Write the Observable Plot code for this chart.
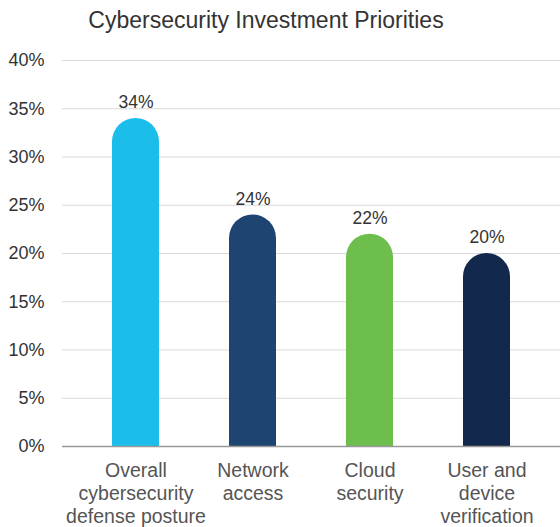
<!DOCTYPE html>
<html>
<head>
<meta charset="utf-8">
<script src="https://cdn.jsdelivr.net/npm/d3@7"></script>
<script src="https://cdn.jsdelivr.net/npm/@observablehq/plot@0.6"></script>
<style>
  html, body { margin: 0; padding: 0; background: #fff; }
  #title { font-family: "Liberation Sans", Arial, sans-serif; font-size: 23px; color: #333; height: 40px; line-height: 40px; width: 560px; text-align: center; padding-right: 28px; box-sizing: border-box; }
</style>
</head>
<body>
<div id="title">Cybersecurity Investment Priorities</div>
<div id="chart"></div>
<script>
const categories = ["Overall\ncybersecurity\ndefense posture", "Network\naccess", "Cloud\nsecurity", "User and\ndevice\nverification"];
const values = [34, 24, 22, 20];
const colors = ["#1BBDEB", "#1E4471", "#6DBE4C", "#13284D"];
const yTicks = [0, 5, 10, 15, 20, 25, 30, 35, 40];

const data = categories.map((c, i) => ({category: c, value: values[i], color: colors[i]}));
const font = "Liberation Sans, Arial, sans-serif";

const chart = Plot.plot({
  width: 560,
  height: 487,
  marginTop: 20,
  marginBottom: 81,
  marginLeft: 62,
  marginRight: 0,
  style: {fontFamily: font, background: "#fff"},
  x: {domain: categories, paddingInner: 0.6, paddingOuter: 0.42, axis: null},
  y: {domain: [0, 40], ticks: yTicks, axis: null},
  marks: [
    Plot.ruleY(yTicks.filter(d => d > 0), {stroke: "#d9d9d9", strokeWidth: 1}),
    Plot.barY(data, {x: "category", y: "value", fill: "color", rx: 23.5}),
    Plot.barY(data, {x: "category", y1: 0, y2: d => d.value / 2, fill: "color"}),
    Plot.ruleY([0], {stroke: "#999", strokeWidth: 1.5}),
    Plot.text(yTicks, {x: null, y: d => d, text: d => d + "%", frameAnchor: "left", textAnchor: "end", dx: -18, fontSize: 18, fill: "#333"}),
    Plot.text(data, {x: "category", y: "value", text: d => d.value + "%", dy: -16, fontSize: 17.5, fill: "#333"}),
    Plot.text(data, {x: "category", y: 0, text: "category", lineAnchor: "top", dy: 14, fontSize: 19.5, lineHeight: 1.18, fill: "#555"})
  ]
});
document.getElementById("chart").appendChild(chart);
</script>
</body>
</html>
